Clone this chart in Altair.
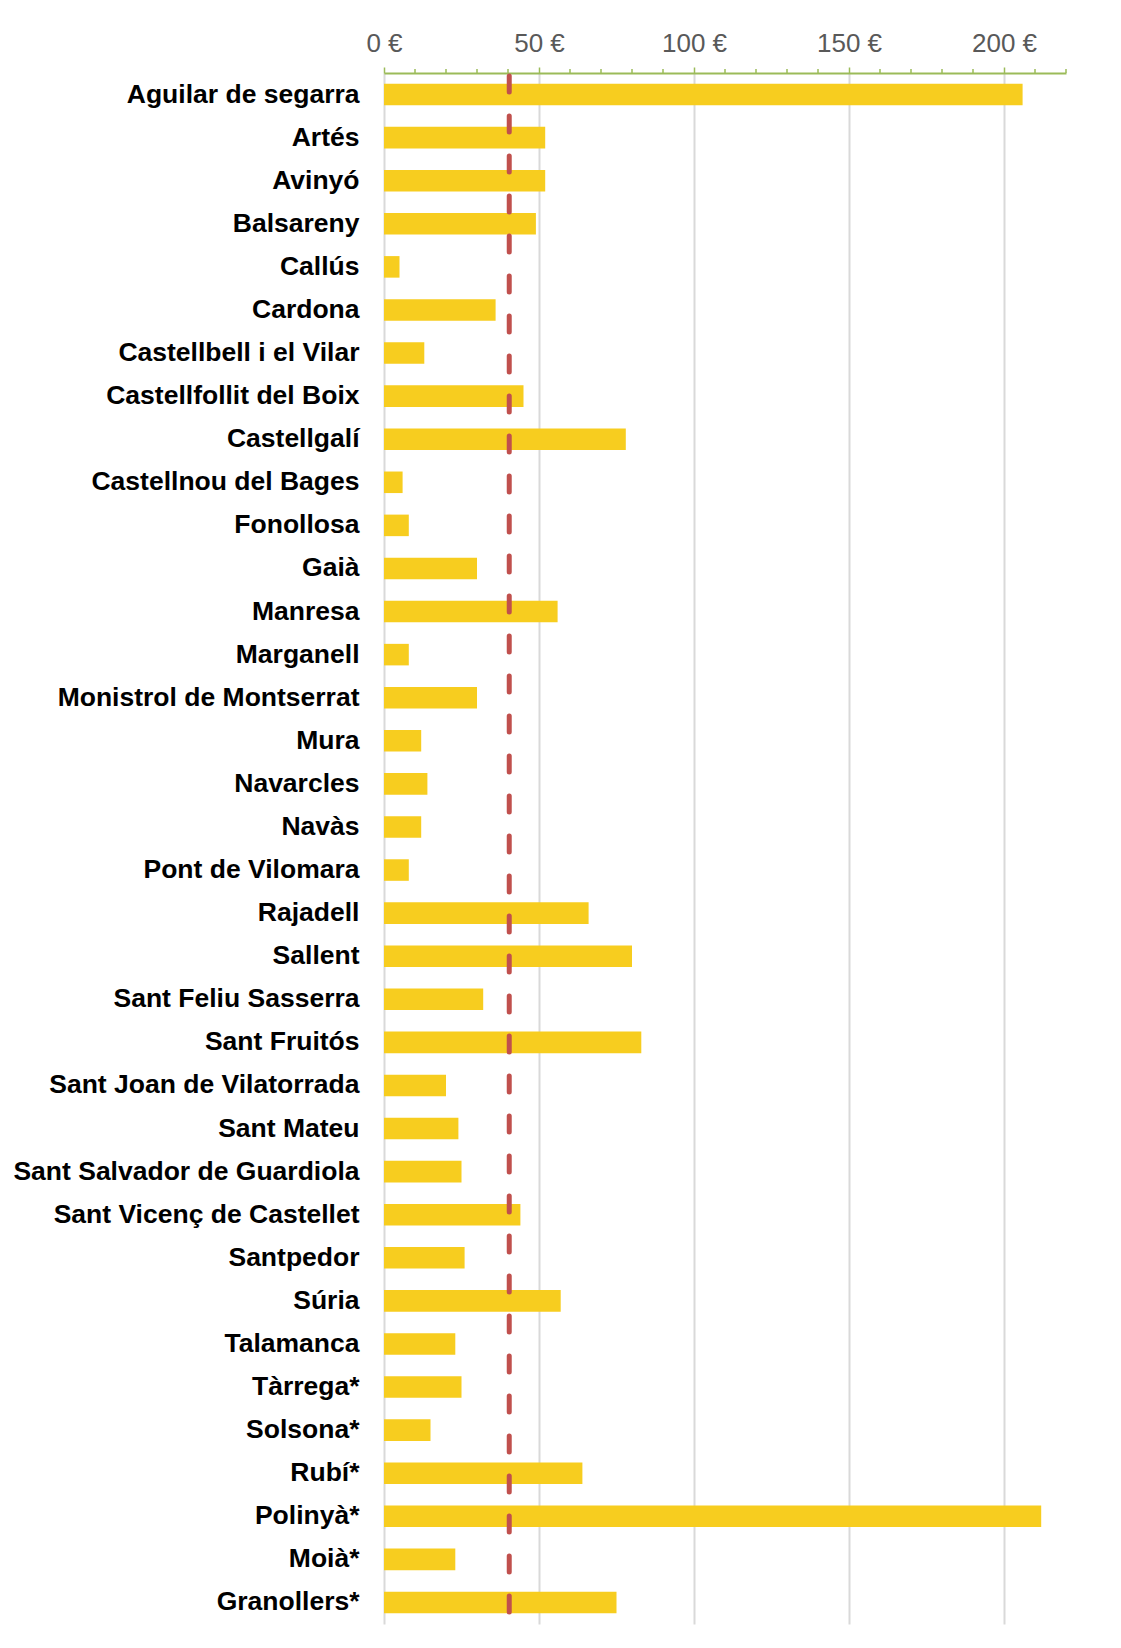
import altair as alt
import pandas as pd

municipis = [
    "Aguilar de segarra", "Artés", "Avinyó", "Balsareny", "Callús", "Cardona",
    "Castellbell i el Vilar", "Castellfollit del Boix", "Castellgalí",
    "Castellnou del Bages", "Fonollosa", "Gaià", "Manresa", "Marganell",
    "Monistrol de Montserrat", "Mura", "Navarcles", "Navàs", "Pont de Vilomara",
    "Rajadell", "Sallent", "Sant Feliu Sasserra", "Sant Fruitós",
    "Sant Joan de Vilatorrada", "Sant Mateu", "Sant Salvador de Guardiola",
    "Sant Vicenç de Castellet", "Santpedor", "Súria", "Talamanca", "Tàrrega*",
    "Solsona*", "Rubí*", "Polinyà*", "Moià*", "Granollers*",
]
imports = [
    206, 52, 52, 49, 5, 36,
    13, 45, 78,
    6, 8, 30, 56, 8,
    30, 12, 14, 12, 8,
    66, 80, 32, 83,
    20, 24, 25,
    44, 26, 57, 23, 25,
    15, 64, 212, 23, 75,
]
mitjana = 40.4
major_ticks = [0, 50, 100, 150, 200]
minor_ticks = [10, 20, 30, 40, 60, 70, 80, 90, 110, 120, 130, 140,
               160, 170, 180, 190, 210, 220]

df = pd.DataFrame({"municipi": municipis, "import": imports})
df_avg = pd.DataFrame({"mitjana": [mitjana]})
df_minor = pd.DataFrame({"t": minor_ticks})

FONT = "Liberation Sans"
GREEN = "#9BBB59"

xscale = alt.Scale(domain=[0, 220], nice=False, zero=True)

bars = alt.Chart(df).mark_bar(color="#F7CD1F").encode(
    x=alt.X(
        "import:Q",
        scale=xscale,
        axis=alt.Axis(
            orient="top",
            values=major_ticks,
            labelExpr="datum.value + ' €'",
            labelFont=FONT,
            labelFontSize=26,
            labelColor="#595959",
            labelPadding=11,
            labelFlush=False,
            tickSize=6,
            tickColor=GREEN,
            tickWidth=1.5,
            domainColor=GREEN,
            domainWidth=2,
            grid=True,
            gridColor="#D9D9D9",
            gridWidth=2,
            title=None,
        ),
    ),
    y=alt.Y(
        "municipi:N",
        sort=municipis,
        scale=alt.Scale(paddingInner=0.5, paddingOuter=0.25),
        axis=alt.Axis(
            domain=False,
            ticks=False,
            tickSize=0,
            labelFont=FONT,
            labelFontSize=26.5,
            labelFontWeight="bold",
            labelColor="#000000",
            labelPadding=25,
            labelLimit=600,
            title=None,
        ),
    ),
)

minor = alt.Chart(df_minor).mark_rule(color=GREEN, strokeWidth=1.5).encode(
    x=alt.X("t:Q", scale=xscale),
    y=alt.value(-4),
    y2=alt.value(0),
)

avg_rule = alt.Chart(df_avg).mark_rule(
    color="#C0504D",
    strokeWidth=5,
    strokeDash=[16, 24],
    strokeDashOffset=37,
    strokeCap="round",
).encode(x=alt.X("mitjana:Q", scale=xscale))

chart = alt.layer(bars, minor, avg_rule).properties(
    width=682,
    height=1551,
    autosize=alt.AutoSizeParams(type="none"),
    padding={"left": 376, "top": 65, "right": 47, "bottom": 16},
).configure_view(stroke=None)

chart.save("out.html", embed_options={"renderer": "svg", "actions": False})
